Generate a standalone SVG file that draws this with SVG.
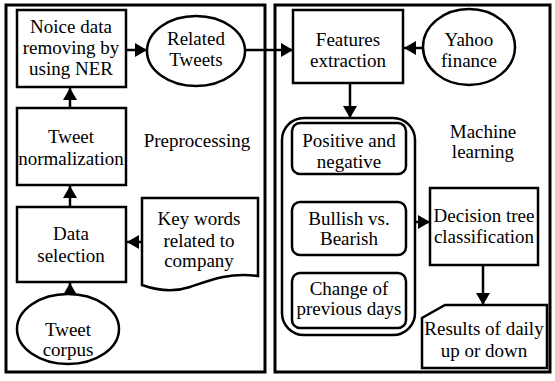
<svg xmlns="http://www.w3.org/2000/svg" width="555" height="381" viewBox="0 0 555 381" font-family="Liberation Serif, DejaVu Serif, serif">
<style>
.t{font-size:19px;fill:#000;text-anchor:middle}
.panel{fill:none;stroke:#000;stroke-width:3}
.box{fill:#fff;stroke:#000;stroke-width:2.5}
.ln{fill:none;stroke:#000;stroke-width:2.5}
</style>
<defs>
<marker id="ah" viewBox="0 0 12 14" refX="12" refY="7" markerWidth="12" markerHeight="14" markerUnits="userSpaceOnUse" orient="auto">
<path d="M0,0 L12,7 L0,14 Z" fill="#000"/>
</marker>
</defs>
<rect fill="#fff" width="555" height="381"/>
<g id="panel-pre"><rect class="panel" x="6" y="5" width="259" height="367"/><text class="t" font-family="Liberation Serif" x="197" y="147">Preprocessing</text></g>
<g id="panel-ml"><rect class="panel" x="275" y="5" width="275" height="367"/><text class="t" x="483" y="138">Machine</text><text class="t" x="483" y="158">learning</text></g>
<g id="connectors">
<path class="ln" d="M126,50 H147" marker-end="url(#ah)"/>
<path class="ln" d="M70,108 V88" marker-end="url(#ah)"/>
<path class="ln" d="M70,207 V186" marker-end="url(#ah)"/>
<path class="ln" d="M70,294 V283" marker-end="url(#ah)"/>
<path class="ln" d="M142,242 H127" marker-end="url(#ah)"/>
<path class="ln" d="M245,50 H293" marker-end="url(#ah)"/>
<path class="ln" d="M424,48 H404" marker-end="url(#ah)"/>
<path class="ln" d="M350,83 V118" marker-end="url(#ah)"/>
<path class="ln" d="M415,222 H430" marker-end="url(#ah)"/>
<path class="ln" d="M483,265 V305" marker-end="url(#ah)"/>
</g>
<g id="noice"><rect class="box" x="17" y="10" width="109" height="77"/><text class="t" x="71" y="33">Noice data</text><text class="t" x="71" y="54">removing by</text><text class="t" x="71" y="75">using NER</text></g>
<g id="related"><ellipse class="box" cx="196" cy="51" rx="49" ry="35"/><text class="t" x="196" y="45">Related</text><text class="t" x="196" y="66">Tweets</text></g>
<g id="normalization"><rect class="box" x="17" y="108" width="109" height="77"/><text class="t" x="71" y="143">Tweet</text><text class="t" x="71" y="165">normalization</text></g>
<g id="selection"><rect class="box" x="17" y="207" width="109" height="75"/><text class="t" x="71" y="240">Data</text><text class="t" x="71" y="262">selection</text></g>
<g id="corpus"><ellipse class="box" cx="68" cy="329" rx="51" ry="35"/><text class="t" x="68" y="336">Tweet</text><text class="t" x="68" y="356">corpus</text></g>
<g id="keywords"><path class="box" d="M142,198 H258 V276 C230,272 210,280 190,287 C172,293 156,290 142,285 Z"/><text class="t" x="199" y="225">Key words</text><text class="t" x="199" y="247">related to</text><text class="t" x="199" y="267">company</text></g>
<g id="features"><rect class="box" x="293" y="10" width="110" height="73"/><text class="t" x="348" y="46">Features</text><text class="t" x="348" y="67">extraction</text></g>
<g id="yahoo"><ellipse class="box" cx="469" cy="47" rx="46" ry="38"/><text class="t" x="469" y="46">Yahoo</text><text class="t" x="469" y="67">finance</text></g>
<g id="group"><rect class="box" x="282" y="118" width="133" height="217" rx="22"/></g>
<g id="positive"><rect class="box" x="292" y="123" width="114" height="51" rx="8"/><text class="t" x="349" y="147">Positive and</text><text class="t" x="349" y="168">negative</text></g>
<g id="bullish"><rect class="box" x="292" y="202" width="114" height="53" rx="8"/><text class="t" x="349" y="225">Bullish vs.</text><text class="t" x="349" y="245">Bearish</text></g>
<g id="change"><rect class="box" x="292" y="273" width="114" height="55" rx="8"/><text class="t" x="349" y="295">Change of</text><text class="t" x="349" y="315">previous days</text></g>
<g id="decision"><rect class="box" x="430" y="188" width="108" height="77"/><text class="t" x="484" y="222">Decision tree</text><text class="t" x="484" y="243">classification</text></g>
<g id="results"><path class="box" d="M445,305 H547 V368 H422 V318 Z"/><text class="t" x="484" y="335">Results of daily</text><text class="t" x="484" y="357">up or down</text></g>
</svg>
